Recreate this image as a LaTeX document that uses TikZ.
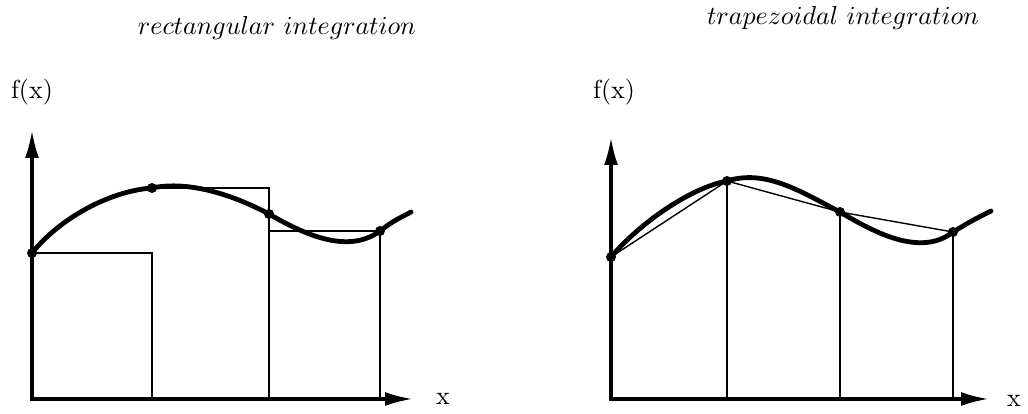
\documentclass[tikz,border=0pt]{standalone}
\usetikzlibrary{arrows.meta}
\begin{document}
\begin{tikzpicture}[x=0.5pt,y=0.5pt,
  axis/.style={line width=1.7pt,{Latex[length=14pt,width=7pt]}-{Latex[length=14pt,width=7pt]}},
  curve/.style={line width=2.4pt,line cap=round},
  thinline/.style={line width=0.7pt},
  lbl/.style={scale=1.3,transform shape}]
\useasboundingbox (0,0) rectangle (1028,413);
% rectangular integration
\coordinate (o1) at (32,14);
\coordinate (ytop1) at (32,283);
\coordinate (xend1) at (413,14);
\coordinate (p0) at (32,160);
\coordinate (p1) at (152,225);
\coordinate (p2) at (269,199);
\coordinate (p3) at (380,182);
\coordinate (e1) at (411,201);
\draw[thinline] (p0) -- (p0 -| p1) -- (p1 |- o1);
\draw[thinline] (p1) -- (p1 -| p2) -- (p2 |- o1);
\draw[thinline] (p2 |- p3) -- (p3) -- (p3 |- o1);
\draw[curve] (p0) .. controls (60,195) and (110,222) .. (p1)
  .. controls (190,233) and (235,217) .. (p2)
  .. controls (310,175) and (350,160) .. (p3)
  .. controls (392,191) .. (e1);
\foreach \p in {p0,p1,p2,p3} \fill (\p) circle (2.5pt);
\draw[axis] (ytop1) -- (o1) -- (xend1);
\node[lbl] (fx1) at (32,321) {f(x)};
\node[lbl] (x1) at (443,14) {x};
\node[lbl] (title1) at (277,385) {$rectangular\ integration$};
% trapezoidal integration
\coordinate (o2) at (611,14);
\coordinate (ytop2) at (611,276);
\coordinate (xend2) at (989,14);
\coordinate (q0) at (611,156);
\coordinate (q1) at (727,232);
\coordinate (q2) at (840,201);
\coordinate (q3) at (953,181);
\coordinate (e2) at (991,202);
\draw[thinline] (q0) -- (q1) -- (q2) -- (q3);
\draw[thinline] (q1) -- (q1 |- o2);
\draw[thinline] (q2) -- (q2 |- o2);
\draw[thinline] (q3) -- (q3 |- o2);
\draw[curve] (q0) .. controls (640,190) and (690,225) .. (q1)
  .. controls (765,244) and (800,222) .. (q2)
  .. controls (872,182) and (920,155) .. (q3)
  .. controls (973,193) .. (e2);
\foreach \q in {q0,q1,q2,q3} \fill (\q) circle (2.5pt);
\draw[axis] (ytop2) -- (o2) -- (xend2);
\node[lbl] (fx2) at (614,321) {f(x)};
\node[lbl] (x2) at (1014,12) {x};
\node[lbl] (title2) at (843,395) {$trapezoidal\ integration$};
\end{tikzpicture}
\end{document}
